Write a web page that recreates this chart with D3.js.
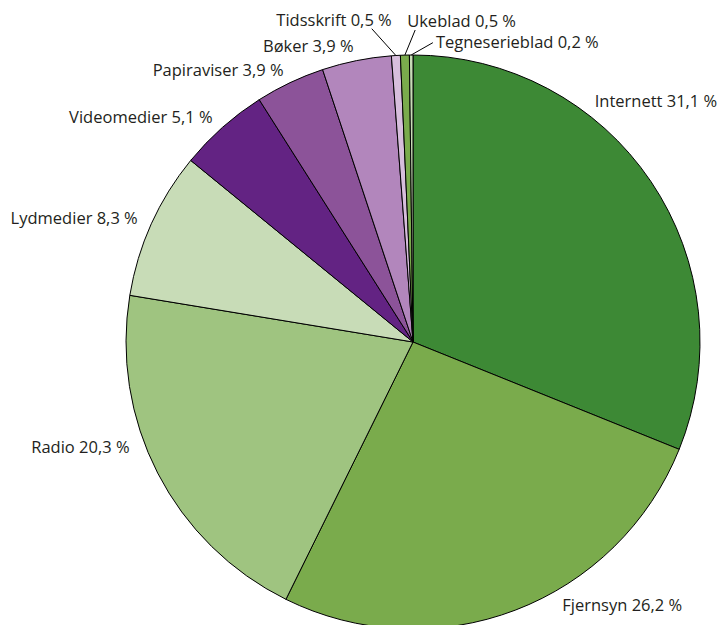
<!DOCTYPE html>
<html>
<head>
<meta charset="utf-8">
<script src="https://cdn.jsdelivr.net/npm/d3@7"></script>
<style>
  body { margin: 0; background: #fff; }
  text { font-family: "Open Sans", "Noto Sans", sans-serif; font-size: 16.5px; fill: #231f20; }
</style>
</head>
<body>
<div id="chart"></div>
<script>
// media share, clockwise from 12 o'clock
var categories = ["Internett", "Fjernsyn", "Radio", "Lydmedier", "Videomedier",
    "Papiraviser", "Bøker", "Tidsskrift", "Ukeblad", "Tegneserieblad"];
var shares = [31.1, 26.2, 20.3, 8.3, 5.1, 3.9, 3.9, 0.5, 0.5, 0.2];
var colors = ["#3d8935", "#7aab4c", "#9fc480", "#c8dcb7", "#632383",
    "#8c5399", "#b286bc", "#d7bedc", "#7aab4c", "#c8dcb7"];

var W = 722, H = 625;
var cx = 413, cy = 342, radius = 287, labelRadius = 302;

// labels that are nudged by hand (degrees)
var labelNudge = { "Radio": 7 };
// small slices get a leader line, elbow given as angle / radius
var callouts = {
    "Tidsskrift":     { angle: 352.5, r: 316, dx: 20, dy: -9, anchor: "end" },
    "Ukeblad":        { angle: 0.4,   r: 312, dx: -8, dy: -10, anchor: "start" },
    "Tegneserieblad": { angle: 3.8,   r: 300, dx: 3,  dy: -1, anchor: "start" }
};

var data = categories.map(function (c, i) {
    return { name: c, value: shares[i], color: colors[i] };
});

var fmt = function (v) { return d3.format(".1f")(v).replace(".", ",") + " %"; };
var toRad = Math.PI / 180;

function polar(a, r) {
    return [cx + r * Math.sin(a), cy - r * Math.cos(a)];
}

var svg = d3.select("#chart").append("svg")
    .attr("width", W)
    .attr("height", H);

var pie = d3.pie().value(d => d.value).sort(null);
var arc = d3.arc().innerRadius(0).outerRadius(radius);
var arcs = pie(data);

svg.append("g")
    .attr("transform", `translate(${cx},${cy})`)
    .selectAll("path")
    .data(arcs)
    .enter().append("path")
    .attr("d", arc)
    .attr("fill", d => d.data.color)
    .attr("stroke", "#000")
    .attr("stroke-width", 1)
    .attr("stroke-linejoin", "round");

var labels = svg.append("g");

arcs.forEach(function (d) {
    var name = d.data.name;
    var mid = (d.startAngle + d.endAngle) / 2;
    var txt = name + " " + fmt(d.data.value);

    if (callouts[name]) {
        var c = callouts[name];
        var p0 = polar(mid, radius);
        var p1 = polar(c.angle * toRad, c.r);
        labels.append("line")
            .attr("x1", p0[0]).attr("y1", p0[1])
            .attr("x2", p1[0]).attr("y2", p1[1])
            .attr("stroke", "#000")
            .attr("stroke-width", 1);
        labels.append("text")
            .attr("x", p1[0] + c.dx)
            .attr("y", p1[1] + c.dy)
            .attr("text-anchor", c.anchor)
            .attr("dominant-baseline", "central")
            .text(txt);
        return;
    }

    var a = mid + (labelNudge[name] || 0) * toRad;
    var right = Math.sin(a) > 0;
    var t = labels.append("text")
        .attr("text-anchor", right ? "start" : "end")
        .attr("dominant-baseline", "central")
        .text(txt);
    var w = t.node().getComputedTextLength();

    // slide the label along its circle until it fits in the window
    var step = 0.25 * toRad;
    for (var k = 0; k < 400; k++) {
        var p = polar(a, labelRadius);
        var x0 = right ? p[0] : p[0] - w;
        var x1 = right ? p[0] + w : p[0];
        var xBad = x0 < 4 || x1 > W - 4;
        var yBad = p[1] < 12 || p[1] > H - 20;
        if (!xBad && !yBad) break;
        var s = Math.sin(a), co = Math.cos(a);
        if (xBad) {
            // pull towards the vertical axis
            a += (s * co > 0 ? -1 : 1) * step;
        } else {
            // pull towards the horizontal axis
            a += (s * co > 0 ? 1 : -1) * step;
        }
    }
    var pos = polar(a, labelRadius);
    t.attr("x", pos[0]).attr("y", pos[1]);
});
</script>
</body>
</html>
